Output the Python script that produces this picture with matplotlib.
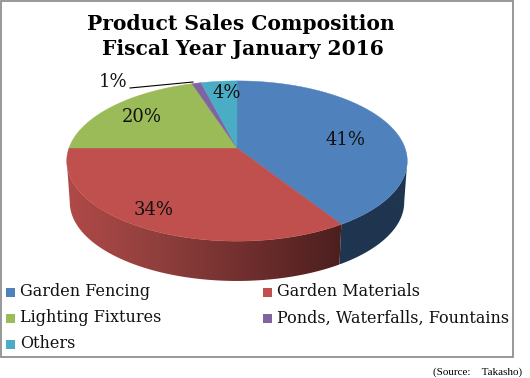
import numpy as np
import matplotlib
matplotlib.use('Agg')
import matplotlib.pyplot as plt
from matplotlib.colors import LinearSegmentedColormap
from matplotlib.patches import Polygon, Rectangle

# Data
categories = ['Garden Fencing', 'Garden Materials', 'Lighting Fixtures', 'Ponds, Waterfalls, Fountains', 'Others']
shares = [41, 34, 20, 1, 4]
colors = ['#4f81bd', '#c0504d', '#9bbb59', '#8064a2', '#4bacc6']
labels = ['41%', '34%', '20%', '1%', '4%']

# pie geometry in pixels
cx, cy = 237, 148
a, b, k = 168, 78, 0.1625
depth = 40
shrink = 0.982

def project(theta, bottom=False):
    # theta clockwise from the top of the circle, with some perspective
    X = np.sin(theta)
    Y = -np.cos(theta)
    w = 1 - k * Y
    s = shrink if bottom else 1
    drop = depth if bottom else 0
    return cx + a * X / w * s, cy + b * Y / w * s + drop + (1.5 if bottom else 0)

fig = plt.figure(figsize=(5.30, 3.78), dpi=100)
ax = fig.add_axes([0, 0, 1, 1])
ax.axis('off')

ax.add_patch(Rectangle((1, 1), 512, 356, fc='white', ec='#868686', lw=1.2, zorder=0))

edges = np.cumsum([0] + shares) / 100 * 2 * np.pi

# side wall, only the part facing the viewer (between the widest points of the rim)
widest = np.arccos(-k)
wall_from = [widest, edges[1]]
wall_to = [edges[1], 2 * np.pi - widest]
wall_cmaps = [
    LinearSegmentedColormap.from_list('blue', ['#1f3550', '#1f3550']),
    LinearSegmentedColormap.from_list('red', ['#4b1f1e', '#6f2e2d', '#8f3f3d', '#b04a48']),
]
for t0, t1, cmap in zip(wall_from, wall_to, wall_cmaps):
    t = np.linspace(t0, t1, 150)
    xt, yt = project(t)
    xb, yb = project(t, True)
    pts = np.column_stack([np.r_[xt, xb[::-1]], np.r_[yt, yb[::-1]]])
    poly = Polygon(pts, fc='none', ec='none')
    ax.add_patch(poly)
    im = ax.imshow(np.linspace(1, 0, 256).reshape(1, -1), cmap=cmap, aspect='auto',
                   extent=[pts[:, 0].min(), pts[:, 0].max(), pts[:, 1].max(), pts[:, 1].min()],
                   interpolation='bilinear', zorder=1)
    im.set_clip_path(poly)

# top face
for i, c in enumerate(colors):
    t = np.linspace(edges[i], edges[i + 1], 120)
    x, y = project(t)
    ax.add_patch(Polygon(np.column_stack([np.r_[cx, x], np.r_[cy, y]]), fc=c, ec=c, lw=0.3, zorder=2))

ax.set_xlim(0, 530)
ax.set_ylim(378, 0)

serif = 'DejaVu Serif'
ax.text(241, 24, 'Product Sales Composition', fontsize=14.6, family=serif, weight='bold', ha='center', va='center', color='black')
ax.text(243, 49, 'Fiscal Year January 2016', fontsize=14.6, family=serif, weight='bold', ha='center', va='center', color='black')

# data labels
label_pos = [(345, 140), (154, 210), (142, 117), (113, 82), (227, 93)]
for s, (x, y) in zip(labels, label_pos):
    ax.text(x, y, s, fontsize=13, family=serif, ha='center', va='center', color='#111111', zorder=3)
ax.plot([130, 193], [88, 82], color='black', lw=0.8, zorder=3)

# legend
leg_x = [6, 263]
leg_y = [292, 318, 344]
for i, (name, c) in enumerate(zip(categories, colors)):
    col = i % 2
    row = i // 2
    ax.add_patch(Rectangle((leg_x[col], leg_y[row] - 4), 9, 9, fc=c, ec='none'))
    ax.text(leg_x[col] + 14, leg_y[row], name, fontsize=11.5, family=serif, va='center', color='#111111')

ax.text(522, 372, '(Source:\u2003Takasho)', fontsize=8, family='Liberation Serif', ha='right', va='center', color='black')

fig.savefig('out.png', dpi=100)
